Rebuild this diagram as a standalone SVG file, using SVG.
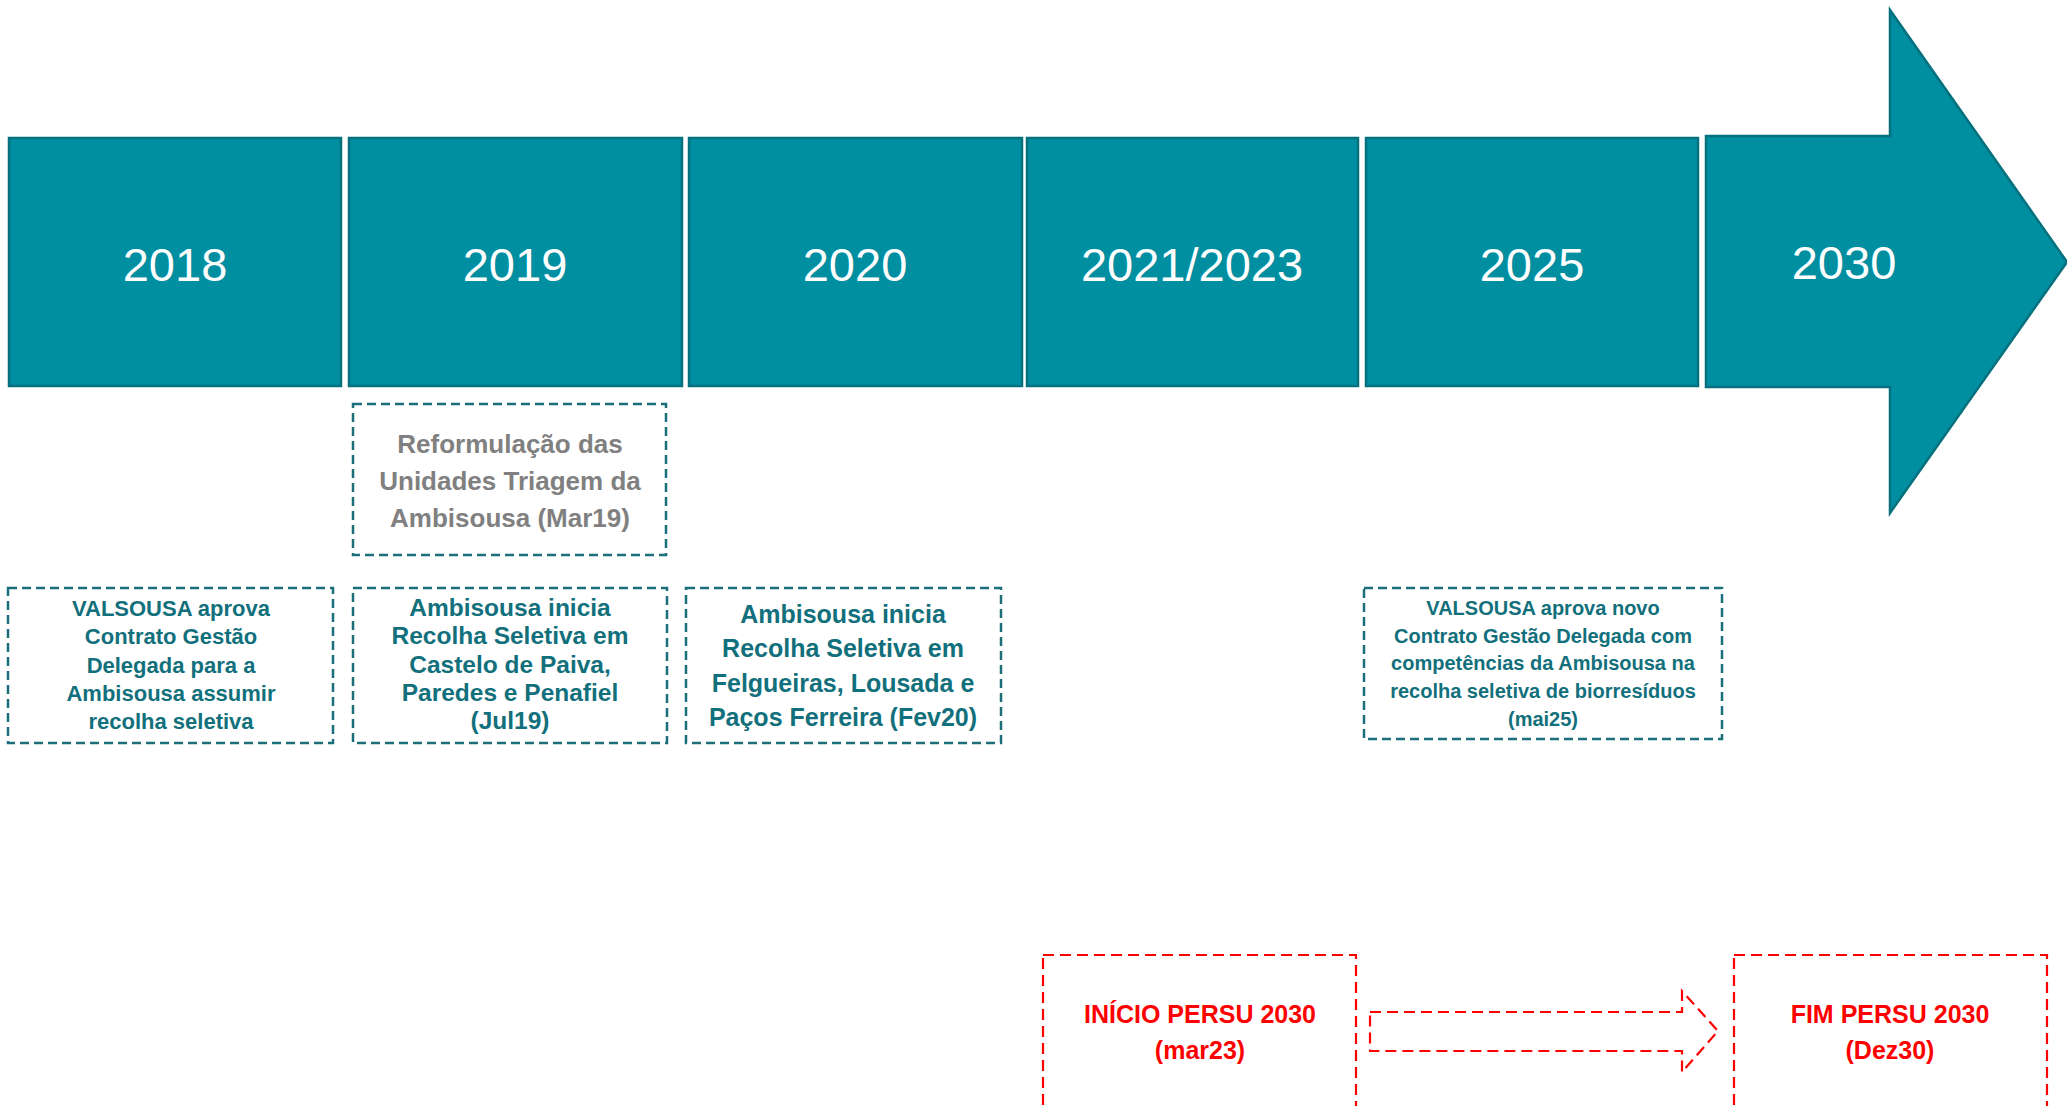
<svg xmlns="http://www.w3.org/2000/svg" width="2067" height="1106" viewBox="0 0 2067 1106">
<style>
.yr{fill:#008EA1;stroke:#05707E;stroke-width:2.5}
.yt{font-family:"Liberation Sans",Arial,sans-serif;font-size:47px;fill:#FFFFFF;text-anchor:middle}
.db{fill:none;stroke:#1B6F7B;stroke-width:2.5;stroke-dasharray:9 5}
.rb{fill:none;stroke:#FF0000;stroke-width:2.2;stroke-dasharray:11 6}
.tt{font-family:"Liberation Sans",Arial,sans-serif;font-weight:bold;fill:#12707C;text-anchor:middle}
.gt{font-family:"Liberation Sans",Arial,sans-serif;font-weight:bold;fill:#808080;text-anchor:middle;font-size:26px}
.rt{font-family:"Liberation Sans",Arial,sans-serif;font-weight:bold;fill:#FF0000;text-anchor:middle;font-size:25px}
</style>
<rect width="2067" height="1106" fill="#FFFFFF"/>
<g id="y2018"><rect class="yr" x="9" y="138" width="332" height="248"/><text class="yt" x="175" y="281">2018</text></g>
<g id="y2019"><rect class="yr" x="349" y="138" width="333" height="248"/><text class="yt" x="515" y="281">2019</text></g>
<g id="y2020"><rect class="yr" x="689" y="138" width="333" height="248"/><text class="yt" x="855" y="281">2020</text></g>
<g id="y2021"><rect class="yr" x="1027" y="138" width="331" height="248"/><text class="yt" x="1192" y="281">2021/2023</text></g>
<g id="y2025"><rect class="yr" x="1366" y="138" width="332" height="248"/><text class="yt" x="1532" y="281">2025</text></g>
<g id="y2030"><polygon class="yr" points="1706,136 1890,136 1890,10 2067,262 1890,513 1890,387 1706,387"/><text class="yt" x="1844" y="279">2030</text></g>

<g id="n-reform"><rect class="db" x="353" y="404" width="313" height="151"/>
<text class="gt" x="510"><tspan x="510" y="453">Reformulação das</tspan><tspan x="510" y="490">Unidades Triagem da</tspan><tspan x="510" y="527">Ambisousa (Mar19)</tspan></text></g>

<g id="n-valsousa"><rect class="db" x="8" y="588" width="325" height="155"/>
<text class="tt" font-size="22" x="171"><tspan x="171" y="616">VALSOUSA aprova</tspan><tspan x="171" y="644">Contrato Gestão</tspan><tspan x="171" y="673">Delegada para a</tspan><tspan x="171" y="701">Ambisousa assumir</tspan><tspan x="171" y="729">recolha seletiva</tspan></text></g>

<g id="n-jul19"><rect class="db" x="353" y="588" width="314" height="155"/>
<text class="tt" font-size="24.5" x="510"><tspan x="510" y="616">Ambisousa inicia</tspan><tspan x="510" y="644">Recolha Seletiva em</tspan><tspan x="510" y="673">Castelo de Paiva,</tspan><tspan x="510" y="701">Paredes e Penafiel</tspan><tspan x="510" y="729">(Jul19)</tspan></text></g>

<g id="n-fev20"><rect class="db" x="686" y="588" width="315" height="155"/>
<text class="tt" font-size="25" x="843"><tspan x="843" y="623">Ambisousa inicia</tspan><tspan x="843" y="657">Recolha Seletiva em</tspan><tspan x="843" y="692">Felgueiras, Lousada e</tspan><tspan x="843" y="726">Paços Ferreira (Fev20)</tspan></text></g>

<g id="n-mai25"><rect class="db" x="1364" y="588" width="358" height="151"/>
<text class="tt" font-size="20" x="1543"><tspan x="1543" y="615">VALSOUSA aprova novo</tspan><tspan x="1543" y="643">Contrato Gestão Delegada com</tspan><tspan x="1543" y="670">competências da Ambisousa na</tspan><tspan x="1543" y="698">recolha seletiva de biorresíduos</tspan><tspan x="1543" y="726">(mai25)</tspan></text></g>

<g id="n-inicio"><rect class="rb" x="1043" y="955" width="313" height="170"/>
<text class="rt"><tspan x="1200" y="1023">INÍCIO PERSU 2030</tspan><tspan x="1200" y="1059">(mar23)</tspan></text></g>

<g id="n-fim"><rect class="rb" x="1734" y="955" width="313" height="170"/>
<text class="rt"><tspan x="1890" y="1023">FIM PERSU 2030</tspan><tspan x="1890" y="1059">(Dez30)</tspan></text></g>

<g id="connectors">
<polygon class="rb" points="1370,1012 1682,1012 1682,991 1718,1031 1682,1072 1682,1051 1370,1051"/>
</g>
</svg>
